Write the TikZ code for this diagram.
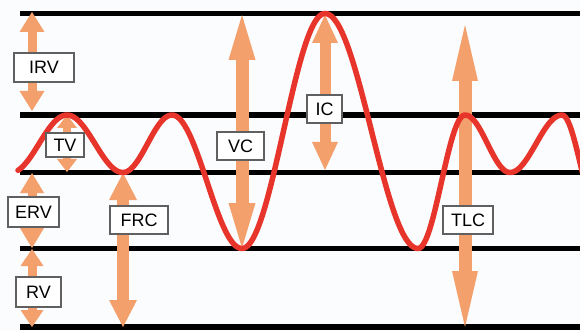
\documentclass[tikz,border=0pt]{standalone}
\usepackage{fontspec}
\setmainfont{Liberation Sans}
\usetikzlibrary{arrows.meta}

\definecolor{bgc}{HTML}{FAFCFE}
\definecolor{wavec}{HTML}{E8352B}
\definecolor{arrowc}{HTML}{F4A06C}
\definecolor{framec}{HTML}{606060}

\tikzset{
  level/.style={draw=black, line width=5.5pt},
  wave/.style={draw=wavec, line width=5.5pt, line join=round, line cap=round},
  vol/.style args={#1/#2/#3}{draw=arrowc, line width=#1,
    {Triangle[width=#2,length=#3,line width=0pt]}-{Triangle[width=#2,length=#3,line width=0pt]}},
  tag/.style={draw=framec, line width=1.1pt, fill=white, inner sep=0pt,
    font=\fontsize{18}{20}\selectfont, text=black},
}

\begin{document}
\begin{tikzpicture}[x=1pt, y=-1pt]
  % canvas
  \fill[bgc] (0,0) rectangle (580,331);
  \useasboundingbox (0,0) rectangle (580,331);

  % lung volume levels
  \coordinate (l1a) at (20,13.5);   \coordinate (l1b) at (580,13.5);
  \coordinate (l2a) at (20,115);    \coordinate (l2b) at (580,115);
  \coordinate (l3a) at (20,172.5);  \coordinate (l3b) at (580,172.5);
  \coordinate (l4a) at (20,248.5);  \coordinate (l4b) at (580,248.5);
  \coordinate (l5a) at (20,327);    \coordinate (l5b) at (580,327);
  \foreach \n in {1,...,5} \draw[level] (l\n a) -- (l\n b);

  % arrow end points
  \coordinate (irvT) at (32,12);   \coordinate (irvB) at (32,111);
  \coordinate (tvT)  at (67,115);  \coordinate (tvB)  at (67,172);
  \coordinate (ervT) at (32,173);  \coordinate (ervB) at (32,248);
  \coordinate (rvT)  at (32,249);  \coordinate (rvB)  at (32,327);
  \coordinate (frcT) at (123,173); \coordinate (frcB) at (123,327);
  \coordinate (vcT)  at (242,15);  \coordinate (vcB)  at (242,248);
  \coordinate (icT)  at (325,15);  \coordinate (icB)  at (325,170);
  \coordinate (tlcT) at (465,25);  \coordinate (tlcB) at (465,327);

  \draw[vol=9pt/25pt/20pt]  (irvT) -- (irvB);
  \draw[vol=8pt/20pt/13pt]  (tvT)  -- (tvB);
  \draw[vol=9pt/24pt/20pt]  (ervT) -- (ervB);
  \draw[vol=9pt/23pt/17pt]  (rvT)  -- (rvB);
  \draw[vol=12pt/28pt/27pt] (frcT) -- (frcB);
  \draw[vol=13pt/27pt/45pt] (vcT)  -- (vcB);
  \draw[vol=11pt/26pt/28pt] (icT)  -- (icB);
  \draw[vol=13pt/26pt/56pt] (tlcT) -- (tlcB);

  % breathing trace: half-cosine segments between extrema
  \begin{scope}
    \clip (0,0) rectangle (580,331);
    \draw[wave]
      plot[domain=18:67, samples=40]   (\x,{143.75+28.75*cos((\x-11)/56*180)})
   -- plot[domain=67:123, samples=40]  (\x,{143.75-28.75*cos((\x-67)/56*180)})
   -- plot[domain=123:172, samples=40] (\x,{143.75+28.75*cos((\x-123)/49*180)})
   -- plot[domain=172:242, samples=50] (\x,{181.75-66.75*cos((\x-172)/70*180)})
   -- plot[domain=242:325, samples=60] (\x,{131+117.5*cos((\x-242)/83*180)})
   -- plot[domain=325:418, samples=60] (\x,{131-117.5*cos((\x-325)/93*180)})
   -- plot[domain=418:465, samples=40] (\x,{181.75+66.75*cos((\x-418)/47*180)})
   -- plot[domain=465:510, samples=40] (\x,{143.75-28.75*cos((\x-465)/45*180)})
   -- plot[domain=510:562, samples=40] (\x,{143.75+28.75*cos((\x-510)/52*180)})
   -- plot[domain=562:584, samples=20] (\x,{162.5-47.5*cos((\x-562)/36*180)});
  \end{scope}

  % labels
  \node[tag, minimum width=60pt, minimum height=29pt] (irv) at (44,67.5)   {IRV};
  \node[tag, minimum width=38pt, minimum height=24pt] (tv)  at (65,145)    {TV};
  \node[tag, minimum width=51pt, minimum height=30pt] (erv) at (33.5,212)  {ERV};
  \node[tag, minimum width=45pt, minimum height=30pt] (rv)  at (38.5,292)  {RV};
  \node[tag, minimum width=58pt, minimum height=28pt] (frc) at (139,220)   {FRC};
  \node[tag, minimum width=47pt, minimum height=28pt] (vc)  at (240.5,146) {VC};
  \node[tag, minimum width=35pt, minimum height=28pt] (ic)  at (324.5,109) {IC};
  \node[tag, minimum width=50pt, minimum height=28pt] (tlc) at (468,220)   {TLC};
\end{tikzpicture}
\end{document}
